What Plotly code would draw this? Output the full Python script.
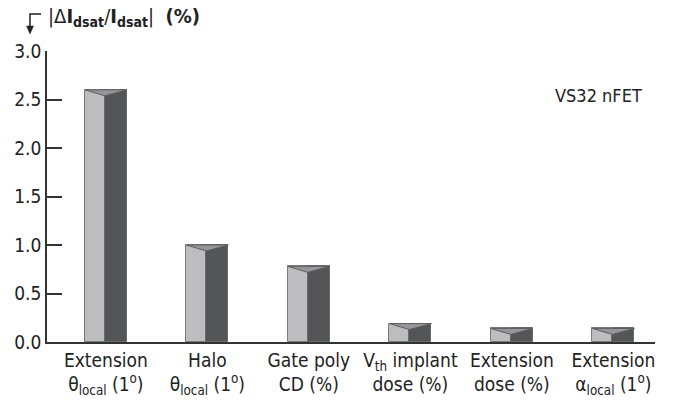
import plotly.graph_objects as go

categories = [
    "Extension<br>θ<sub>local</sub> (1<sup>o</sup>)",
    "Halo<br>θ<sub>local</sub> (1<sup>o</sup>)",
    "Gate poly<br>CD (%)",
    "V<sub>th</sub> implant<br>dose (%)",
    "Extension<br>dose (%)",
    "Extension<br>α<sub>local</sub> (1<sup>o</sup>)",
]
values = [2.6, 1.0, 0.78, 0.19, 0.14, 0.14]
y_ticks = [0.0, 0.5, 1.0, 1.5, 2.0, 2.5, 3.0]

FONT = "DejaVu Sans Condensed, Liberation Sans Narrow, sans-serif"
W, H = 673, 404
L, R, T, B = 47, 18, 51, 62
XR = [-0.58, 5.41]
YR = [0, 3.0]

xs = list(range(len(values)))
half = 0.207
split = -0.01
depth = 0.062

fig = go.Figure()
fig.add_trace(go.Bar(x=xs, y=values, width=split + half, offset=-half,
                     marker=dict(color="#bdbdc0", line=dict(color="#7c7c7e", width=1)),
                     showlegend=False, hoverinfo="skip"))
fig.add_trace(go.Bar(x=xs, y=values, width=half - split, offset=split,
                     marker=dict(color="#545557", line=dict(color="#6a6a6c", width=1)),
                     showlegend=False, hoverinfo="skip"))

tx, ty = [], []
for i, v in zip(xs, values):
    tx += [i - half, i + half, i + split, i - half, None]
    ty += [v, v, v - depth, v, None]
fig.add_trace(go.Scatter(x=tx, y=ty, mode="lines", fill="toself",
                         fillcolor="#96969a", line=dict(color="#5e5e60", width=1),
                         showlegend=False, hoverinfo="skip"))

fig.update_layout(
    width=W, height=H, margin=dict(l=L, r=R, t=T, b=B, autoexpand=False),
    paper_bgcolor="white", plot_bgcolor="white",
    barmode="overlay", bargap=0,
    font=dict(family=FONT, size=19, color="#222"),
    xaxis=dict(range=XR, tickmode="array", tickvals=xs, ticktext=categories,
               showgrid=False, zeroline=False, showline=True, linecolor="#333",
               linewidth=1.5, ticks="", automargin=False,
               tickfont=dict(size=19, color="#222")),
    yaxis=dict(range=YR, tickmode="array", tickvals=y_ticks,
               ticktext=[f"{t:.1f}" for t in y_ticks], automargin=False,
               showgrid=False, zeroline=False, showline=True, linecolor="#333",
               linewidth=1.5, ticks="inside", ticklen=15, tickwidth=1.5,
               tickcolor="#333", tickfont=dict(size=19, color="#222")),
)

def px2paper(px, py):
    return (px - L) / (W - L - R), (H - B - py) / (H - T - B)

x0, y0 = px2paper(41, 14)
x1, y1 = px2paper(30, 14)
x2, y2 = px2paper(30, 27)
fig.add_shape(type="path", xref="paper", yref="paper",
              path=f"M {x0},{y0} L {x1},{y1} L {x2},{y2}",
              line=dict(color="#222", width=1.5))
a0 = px2paper(26.5, 26)
a1 = px2paper(33.5, 26)
a2 = px2paper(30, 34)
fig.add_shape(type="path", xref="paper", yref="paper",
              path=f"M {a0[0]},{a0[1]} L {a1[0]},{a1[1]} L {a2[0]},{a2[1]} Z",
              fillcolor="#222", line=dict(color="#222", width=0.5))

tx_, ty_ = px2paper(46, 17)
fig.add_annotation(xref="paper", yref="paper", x=tx_, y=ty_, xanchor="left",
                   yanchor="middle", showarrow=False,
                   text="|Δ<b>I<sub>dsat</sub></b>/<b>I<sub>dsat</sub></b>|  <b>(%)</b>",
                   font=dict(family=FONT, size=20, color="#222"))
vx, vy = px2paper(598, 95)
fig.add_annotation(xref="paper", yref="paper", x=vx, y=vy, xanchor="center",
                   yanchor="middle", showarrow=False, text="VS32 nFET",
                   font=dict(family=FONT, size=18, color="#222"))

fig.write_html("out.html", config={"displayModeBar": False},
               post_script="document.body.style.margin='0';document.body.style.padding='0';")
